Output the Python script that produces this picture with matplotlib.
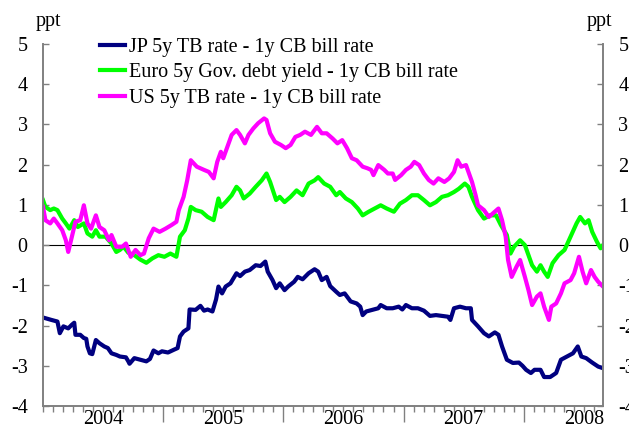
import matplotlib
matplotlib.use("Agg")
import matplotlib.pyplot as plt
import matplotlib.transforms as mtransforms
import numpy as np

plt.rcParams['font.family'] = ['Liberation Serif', 'DejaVu Serif']
plt.rcParams['axes.unicode_minus'] = False

# decimal years / spread in ppt
jp_t = [2004.00, 2004.07, 2004.12, 2004.14, 2004.17, 2004.21, 2004.24, 2004.26, 2004.27, 2004.31,
        2004.34, 2004.36, 2004.37, 2004.39, 2004.41, 2004.44, 2004.47, 2004.51, 2004.54, 2004.57,
        2004.61, 2004.64, 2004.69, 2004.71, 2004.72, 2004.76, 2004.81, 2004.86, 2004.89, 2004.92,
        2004.96, 2004.99, 2005.04, 2005.09, 2005.12, 2005.14, 2005.17, 2005.21, 2005.22, 2005.27,
        2005.31, 2005.34, 2005.37, 2005.41, 2005.44, 2005.46, 2005.49, 2005.52, 2005.56, 2005.61,
        2005.64, 2005.68, 2005.72, 2005.77, 2005.81, 2005.85, 2005.87, 2005.91, 2005.94, 2005.97,
        2006.01, 2006.04, 2006.09, 2006.12, 2006.16, 2006.21, 2006.26, 2006.29, 2006.32, 2006.36,
        2006.39, 2006.44, 2006.47, 2006.51, 2006.56, 2006.61, 2006.64, 2006.66, 2006.69, 2006.74,
        2006.79, 2006.81, 2006.86, 2006.91, 2006.96, 2006.99, 2007.02, 2007.07, 2007.12, 2007.17,
        2007.22, 2007.27, 2007.32, 2007.37, 2007.39, 2007.42, 2007.47, 2007.52, 2007.56, 2007.57,
        2007.62, 2007.67, 2007.71, 2007.76, 2007.79, 2007.82, 2007.86, 2007.91, 2007.96, 2007.99,
        2008.02, 2008.06, 2008.09, 2008.14, 2008.17, 2008.22, 2008.27, 2008.31, 2008.36, 2008.41,
        2008.45, 2008.48, 2008.52, 2008.57, 2008.62, 2008.66]
jp_v = [-1.80, -1.86, -1.90, -2.19, -2.02, -2.07, -1.98, -1.93, -2.23, -2.23,
        -2.31, -2.33, -2.52, -2.69, -2.71, -2.36, -2.44, -2.52, -2.56, -2.69,
        -2.73, -2.77, -2.79, -2.89, -2.95, -2.81, -2.85, -2.89, -2.83, -2.62,
        -2.69, -2.64, -2.67, -2.60, -2.56, -2.27, -2.15, -2.07, -1.60, -1.61,
        -1.51, -1.63, -1.60, -1.65, -1.35, -1.03, -1.20, -1.03, -0.95, -0.70,
        -0.77, -0.66, -0.62, -0.50, -0.52, -0.41, -0.66, -0.87, -1.07, -0.95,
        -1.12, -1.03, -0.91, -0.79, -0.85, -0.70, -0.60, -0.66, -0.87, -0.79,
        -1.02, -1.16, -1.24, -1.20, -1.40, -1.45, -1.53, -1.74, -1.65, -1.61,
        -1.57, -1.49, -1.57, -1.57, -1.53, -1.60, -1.49, -1.57, -1.57, -1.63,
        -1.76, -1.74, -1.76, -1.78, -1.86, -1.57, -1.53, -1.57, -1.57, -1.86,
        -2.02, -2.19, -2.27, -2.17, -2.23, -2.52, -2.85, -2.93, -2.92, -3.00,
        -3.10, -3.18, -3.10, -3.10, -3.28, -3.28, -3.18, -2.85, -2.77, -2.69,
        -2.52, -2.77, -2.81, -2.92, -3.02, -3.06]

eu_t = [2004.00, 2004.02, 2004.06, 2004.09, 2004.12, 2004.16, 2004.19, 2004.22, 2004.26, 2004.29,
        2004.34, 2004.37, 2004.41, 2004.44, 2004.47, 2004.52, 2004.57, 2004.61, 2004.64, 2004.67,
        2004.71, 2004.76, 2004.81, 2004.86, 2004.91, 2004.96, 2005.01, 2005.06, 2005.11, 2005.14,
        2005.18, 2005.21, 2005.23, 2005.27, 2005.32, 2005.37, 2005.42, 2005.46, 2005.48, 2005.52,
        2005.57, 2005.61, 2005.64, 2005.67, 2005.72, 2005.77, 2005.82, 2005.86, 2005.89, 2005.94,
        2005.97, 2006.01, 2006.06, 2006.11, 2006.16, 2006.21, 2006.26, 2006.29, 2006.34, 2006.39,
        2006.44, 2006.47, 2006.52, 2006.57, 2006.62, 2006.66, 2006.71, 2006.76, 2006.81, 2006.86,
        2006.92, 2006.97, 2007.02, 2007.07, 2007.12, 2007.17, 2007.22, 2007.27, 2007.32, 2007.37,
        2007.42, 2007.46, 2007.51, 2007.54, 2007.57, 2007.62, 2007.67, 2007.72, 2007.77, 2007.81,
        2007.86, 2007.89, 2007.92, 2007.97, 2008.01, 2008.04, 2008.07, 2008.11, 2008.14, 2008.17,
        2008.20, 2008.24, 2008.29, 2008.34, 2008.39, 2008.44, 2008.47, 2008.51, 2008.54, 2008.57,
        2008.61, 2008.64, 2008.66]
eu_v = [1.12, 0.95, 0.87, 0.91, 0.87, 0.66, 0.54, 0.41, 0.62, 0.45,
        0.54, 0.29, 0.21, 0.37, 0.21, 0.21, 0.04, -0.17, -0.12, -0.04,
        -0.19, -0.25, -0.36, -0.44, -0.33, -0.25, -0.29, -0.21, -0.29, 0.21,
        0.37, 0.66, 0.95, 0.87, 0.83, 0.70, 0.62, 1.16, 0.95, 1.07,
        1.24, 1.45, 1.36, 1.16, 1.28, 1.45, 1.61, 1.78, 1.57, 1.12,
        1.20, 1.07, 1.20, 1.36, 1.24, 1.53, 1.61, 1.69, 1.53, 1.45,
        1.24, 1.32, 1.16, 1.07, 0.91, 0.74, 0.83, 0.91, 0.99, 0.91,
        0.83, 1.03, 1.12, 1.24, 1.24, 1.12, 0.99, 1.07, 1.20, 1.24,
        1.32, 1.40, 1.53, 1.45, 1.20, 0.87, 0.66, 0.74, 0.74, 0.50,
        0.25, -0.21, -0.04, 0.12, 0.00, -0.25, -0.50, -0.66, -0.50, -0.66,
        -0.79, -0.45, -0.25, -0.12, 0.21, 0.54, 0.70, 0.54, 0.62, 0.33,
        0.08, -0.08, 0.00]

us_t = [2004.00, 2004.02, 2004.06, 2004.09, 2004.12, 2004.16, 2004.19, 2004.21, 2004.24, 2004.27,
        2004.31, 2004.34, 2004.37, 2004.40, 2004.44, 2004.47, 2004.51, 2004.55, 2004.57, 2004.61,
        2004.66, 2004.69, 2004.73, 2004.77, 2004.81, 2004.84, 2004.88, 2004.92, 2004.97, 2005.02,
        2005.07, 2005.11, 2005.13, 2005.17, 2005.20, 2005.23, 2005.28, 2005.34, 2005.38, 2005.42,
        2005.45, 2005.48, 2005.50, 2005.54, 2005.57, 2005.61, 2005.64, 2005.68, 2005.71, 2005.75,
        2005.79, 2005.84, 2005.86, 2005.89, 2005.93, 2005.98, 2006.02, 2006.06, 2006.10, 2006.14,
        2006.18, 2006.23, 2006.28, 2006.32, 2006.36, 2006.41, 2006.45, 2006.49, 2006.53, 2006.57,
        2006.61, 2006.66, 2006.70, 2006.73, 2006.75, 2006.79, 2006.84, 2006.87, 2006.91, 2006.93,
        2006.98, 2007.02, 2007.06, 2007.09, 2007.13, 2007.17, 2007.21, 2007.25, 2007.29, 2007.34,
        2007.38, 2007.42, 2007.45, 2007.48, 2007.52, 2007.54, 2007.57, 2007.60, 2007.62, 2007.67,
        2007.71, 2007.76, 2007.79, 2007.82, 2007.85, 2007.87, 2007.90, 2007.94, 2007.97, 2008.01,
        2008.04, 2008.07, 2008.11, 2008.14, 2008.17, 2008.21, 2008.23, 2008.27, 2008.31, 2008.34,
        2008.39, 2008.42, 2008.46, 2008.49, 2008.52, 2008.56, 2008.59, 2008.62, 2008.66]
us_v = [0.95, 0.62, 0.54, 0.66, 0.54, 0.37, 0.12, -0.17, 0.21, 0.58,
        0.62, 0.99, 0.54, 0.41, 0.74, 0.45, 0.37, 0.12, 0.25, -0.04,
        -0.04, 0.04, -0.29, -0.12, -0.25, -0.21, 0.17, 0.41, 0.33, 0.41,
        0.50, 0.58, 0.87, 1.20, 1.61, 2.11, 1.95, 1.87, 1.82, 1.66,
        2.07, 2.32, 2.16, 2.49, 2.74, 2.86, 2.74, 2.53, 2.74, 2.90,
        3.03, 3.15, 3.11, 2.78, 2.57, 2.49, 2.41, 2.49, 2.69, 2.74,
        2.82, 2.74, 2.94, 2.78, 2.78, 2.65, 2.53, 2.61, 2.41, 2.16,
        2.11, 1.95, 1.91, 1.87, 1.74, 1.99, 1.87, 1.78, 1.78, 1.62,
        1.74, 1.87, 1.95, 2.07, 1.99, 1.78, 1.62, 1.53, 1.66, 1.57,
        1.66, 1.82, 2.11, 1.95, 1.99, 1.82, 1.57, 1.24, 0.99, 0.87,
        0.70, 0.83, 0.91, 0.62, 0.21, -0.37, -0.79, -0.54, -0.37, -0.79,
        -1.12, -1.49, -1.28, -1.20, -1.53, -1.86, -1.53, -1.45, -1.20, -0.95,
        -0.87, -0.70, -0.29, -0.66, -0.95, -0.62, -0.79, -0.91, -1.03]

labels = ['JP 5y TB rate - 1y CB bill rate',
          'Euro 5y Gov. debt yield - 1y CB bill rate',
          'US 5y TB rate - 1y CB bill rate']
colors = ['#000080', '#00ff00', '#ff00ff']
years = [2004, 2005, 2006, 2007, 2008]
x_end = 2008.66

fs = 14.5
fig = plt.figure(figsize=(6.29, 4.32), dpi=100)
ax = fig.add_axes([43 / 629, 1 - 406 / 432, 560 / 629, 362 / 432])

ax.plot(jp_t, jp_v, color=colors[0], lw=3, label=labels[0])
ax.plot(eu_t, eu_v, color=colors[1], lw=3, label=labels[1])
ax.plot(us_t, us_v, color=colors[2], lw=3, label=labels[2])
ax.axhline(0, color='black', lw=0.8, zorder=1)

ax.set_xlim(years[0], x_end)
ax.set_ylim(-4, 5)

grey = '#808080'
for side in ['left', 'right', 'bottom']:
    ax.spines[side].set_color(grey)
    ax.spines[side].set_linewidth(1.4)
ax.spines['top'].set_visible(False)

ax.set_yticks(range(-4, 6))
ax.tick_params(axis='y', which='both', direction='in', length=4.5, width=1,
               color=grey, labelsize=fs, left=True, right=True,
               labelleft=True, labelright=True, pad=11)

ax.set_xticks(years[1:])
ax.set_xticklabels([])
ax.set_xticks(np.arange(years[0], x_end, 1 / 12), minor=True)
ax.tick_params(axis='x', which='major', direction='out', length=11.5, width=1, color=grey)
ax.tick_params(axis='x', which='minor', direction='out', length=4.3, width=1, color=grey)

trans = mtransforms.blended_transform_factory(ax.transData, ax.transAxes)
for y in years:
    ax.text(y + 0.5, -0.012, str(y), transform=trans, ha='center', va='top', fontsize=fs)

ax.text(-0.0125, 1.05, 'ppt', transform=ax.transAxes, ha='left', va='baseline', fontsize=fs)
ax.text(1.016, 1.05, 'ppt', transform=ax.transAxes, ha='right', va='baseline', fontsize=fs)

ax.legend(loc='upper left', bbox_to_anchor=(0.102, 1.016), frameon=False, fontsize=fs,
          handlelength=1.25, handletextpad=0.2, labelspacing=0.3, borderpad=0, borderaxespad=0)

fig.savefig('out.png', dpi=100)
